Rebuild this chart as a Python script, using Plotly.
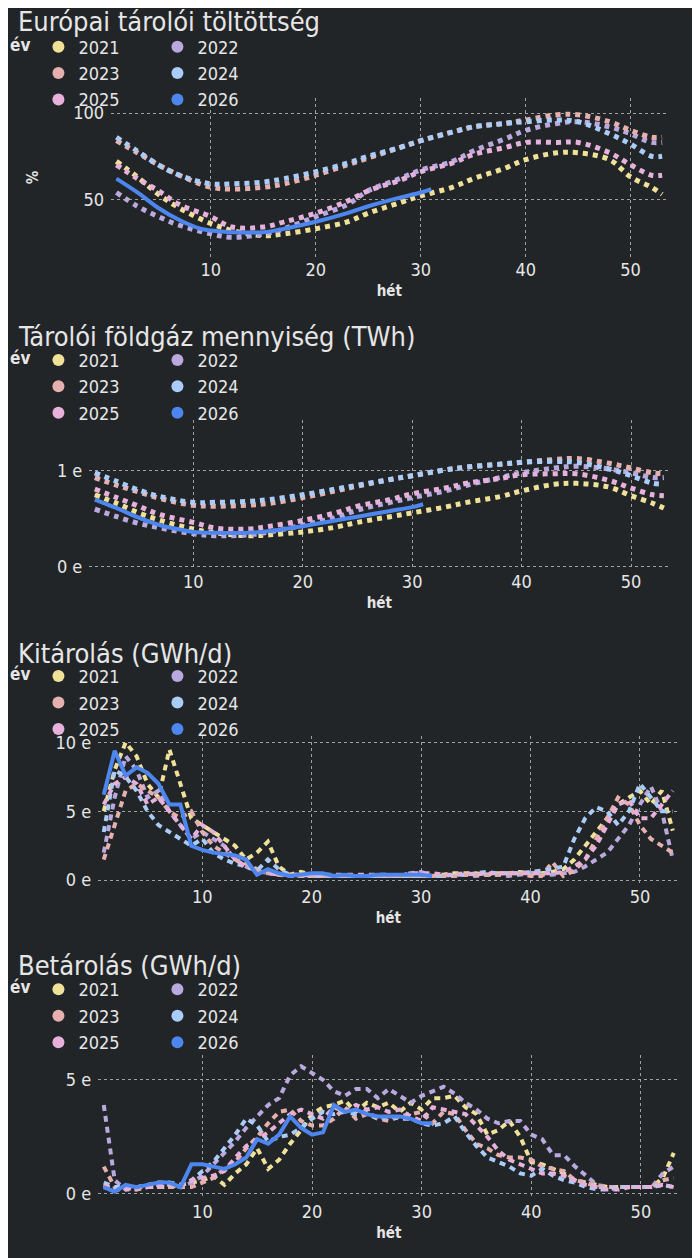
import plotly.graph_objects as go

# Years and colours
years = ["2021", "2022", "2023", "2024", "2025", "2026"]
colors = ["#F0E199", "#B9A9DF", "#E5B0AE", "#A9CCF8", "#E8B1DC", "#4E86F0"]

# Smooth panels: values read at selected weeks
wk_s = [1, 3, 5, 7, 10, 12, 15, 17, 20, 23, 25, 28, 30, 33, 35, 38, 40, 43, 45, 48, 50, 52, 53]
wk_s26 = [1, 3, 5, 7, 9, 10, 12, 15, 17, 20, 23, 25, 28, 30, 31]

fill_pct = {
    "2021": [72, 63, 53, 45, 36, 32, 29, 30, 33, 37, 42, 48, 52, 57, 62, 68, 73, 77, 77, 73, 63, 57, 53],
    "2022": [54, 46, 40, 35, 30, 28, 30, 33, 40, 47, 55, 62, 67, 72, 78, 85, 90, 94, 95, 92, 88, 83, 83],
    "2023": [84, 77, 70, 64, 57, 56, 57, 59, 64, 70, 74, 80, 84, 89, 92, 94, 96, 99, 99, 95, 90, 86, 86],
    "2024": [86, 78, 70, 64, 59, 59, 60, 62, 66, 71, 75, 80, 84, 89, 92, 94, 95, 96, 95, 88, 82, 75, 75],
    "2025": [70, 62, 55, 47, 40, 34, 34, 37, 42, 49, 55, 61, 66, 71, 76, 80, 83, 83, 83, 77, 70, 64, 64],
    "2026": [62, 54, 45, 38, 33, 32, 31, 31, 33, 37, 42, 46, 51, 54, 56],
}

volume_twh = {
    "2021": [0.75, 0.66, 0.56, 0.48, 0.39, 0.35, 0.32, 0.33, 0.36, 0.41, 0.46, 0.52, 0.56, 0.62, 0.67, 0.73, 0.79, 0.86, 0.87, 0.83, 0.74, 0.66, 0.61],
    "2022": [0.60, 0.52, 0.45, 0.40, 0.34, 0.32, 0.33, 0.36, 0.43, 0.51, 0.59, 0.67, 0.72, 0.79, 0.85, 0.93, 0.98, 1.03, 1.05, 1.02, 0.98, 0.93, 0.93],
    "2023": [0.93, 0.85, 0.78, 0.71, 0.64, 0.63, 0.64, 0.66, 0.72, 0.79, 0.84, 0.91, 0.95, 1.01, 1.04, 1.07, 1.09, 1.12, 1.13, 1.08, 1.03, 0.98, 0.97],
    "2024": [0.98, 0.89, 0.80, 0.73, 0.67, 0.67, 0.68, 0.70, 0.75, 0.81, 0.85, 0.91, 0.95, 1.01, 1.04, 1.07, 1.09, 1.10, 1.09, 1.02, 0.95, 0.87, 0.86],
    "2025": [0.81, 0.72, 0.63, 0.54, 0.46, 0.40, 0.39, 0.42, 0.48, 0.56, 0.63, 0.70, 0.76, 0.82, 0.87, 0.92, 0.96, 0.97, 0.97, 0.90, 0.82, 0.75, 0.74],
    "2026": [0.70, 0.61, 0.51, 0.43, 0.38, 0.36, 0.35, 0.35, 0.37, 0.42, 0.48, 0.52, 0.58, 0.62, 0.65],
}

# Weekly panels (thousand GWh/d)
withdrawal = {
    "2021": [5, 8, 10, 9, 7, 6, 9.5, 7, 4.5, 4, 3.5, 3, 2.5, 1.5, 2, 2.8, 1, 0.4, 0.6, 0.4, 0.4, 0.3, 0.3, 0.3, 0.3, 0.3, 0.3, 0.3, 0.3, 0.3, 0.3, 0.4, 0.5, 0.5, 0.5, 0.4, 0.5, 0.5, 0.6, 0.5, 0.5, 0.6, 0.8, 1.5, 2.5, 3.5, 4.5, 5.5, 6, 6.5, 5.5, 6.5, 3.6],
    "2022": [2, 6, 9, 8, 6, 6.5, 5, 4, 3, 3.5, 3, 2.5, 1.5, 1, 0.6, 0.5, 0.4, 0.3, 0.3, 0.3, 0.3, 0.3, 0.3, 0.3, 0.3, 0.3, 0.3, 0.3, 0.5, 0.6, 0.3, 0.3, 0.3, 0.4, 0.3, 0.4, 0.4, 0.3, 0.4, 0.5, 0.4, 0.4, 0.5, 0.6, 1, 1.5, 2, 3, 4, 5.5, 6.8, 5, 1.5],
    "2023": [1.5, 4, 6.5, 7, 6.5, 6, 5, 4.5, 5, 3.5, 2.5, 2, 1.5, 1.2, 0.8, 0.6, 0.4, 0.4, 0.3, 0.3, 0.3, 0.3, 0.3, 0.3, 0.3, 0.3, 0.3, 0.3, 0.3, 0.3, 0.3, 0.3, 0.3, 0.4, 0.4, 0.4, 0.4, 0.5, 0.5, 0.3, 0.3, 1.3, 0.3, 0.7, 1.5, 3, 4.5, 6, 5.5, 4, 3, 2.5, 2],
    "2024": [3.5, 8, 7.5, 6.5, 5, 4, 3.5, 3, 2.5, 3, 2, 1.5, 1.2, 1, 0.7, 1.5, 0.8, 0.4, 0.4, 0.3, 0.3, 0.3, 0.3, 0.3, 0.3, 0.3, 0.3, 0.3, 0.3, 0.3, 0.3, 0.3, 0.4, 0.4, 0.5, 0.6, 0.5, 0.5, 0.5, 0.6, 0.7, 0.8, 1, 3, 4.5, 5.3, 5, 4, 5, 7, 6, 5, 5],
    "2025": [5.5, 7, 7.5, 7, 5.5, 6, 5, 4, 3, 4, 3.5, 2.5, 1.5, 1, 0.7, 0.5, 0.4, 0.4, 0.4, 0.4, 0.4, 0.4, 0.4, 0.4, 0.4, 0.4, 0.4, 0.3, 0.5, 0.5, 0.5, 0.4, 0.4, 0.5, 0.4, 0.5, 0.5, 0.5, 0.5, 0.5, 0.5, 0.5, 0.6, 1, 1.5, 2.5, 4, 5.5, 5.8, 4.5, 4.5, 5.5, 6.5],
    "2026": [6.2, 9.4, 7.6, 8.2, 7.8, 7.0, 5.5, 5.5, 2.5, 2.2, 2.0, 1.9, 1.8, 1.5, 0.4, 0.8, 0.5, 0.3, 0.4, 0.5, 0.5, 0.3, 0.4, 0.3, 0.3, 0.4, 0.4, 0.4, 0.4, 0.4, 0.3],
}

injection = {
    "2021": [0.3, 0.2, 0.3, 0.3, 0.3, 0.3, 0.3, 0.4, 0.5, 0.6, 0.8, 0.4, 0.9, 1.3, 2.0, 1.1, 1.5, 2.2, 2.8, 3.5, 3.8, 3.9, 4.1, 3.6, 4.0, 3.8, 4.0, 3.6, 4.0, 3.7, 4.2, 4.2, 4.3, 3.8, 3.5, 2.6, 2.8, 3.2, 2.5, 1.4, 1.3, 1.1, 0.9, 0.6, 0.5, 0.4, 0.3, 0.3, 0.3, 0.3, 0.3, 0.7, 1.8],
    "2022": [3.9, 0.6, 0.2, 0.2, 0.3, 0.4, 0.4, 0.3, 0.5, 0.8, 1.3, 1.8, 2.3, 2.9, 3.4, 3.9, 4.2, 5.2, 5.6, 5.3, 5.0, 4.5, 4.3, 4.6, 4.6, 4.2, 4.6, 4.3, 4.0, 4.3, 4.5, 4.7, 4.4, 4.0, 3.7, 3.3, 3.1, 3.2, 3.2, 2.6, 2.4, 1.7, 1.7, 1.2, 0.8, 0.4, 0.3, 0.3, 0.3, 0.3, 0.3, 0.9, 1.2],
    "2023": [1.2, 0.3, 0.3, 0.2, 0.3, 0.3, 0.3, 0.3, 0.3, 0.5, 0.7, 1.1, 1.4, 2.0, 2.5, 3.1, 3.6, 3.7, 3.2, 3.0, 3.0, 3.3, 3.8, 3.3, 3.5, 3.3, 3.2, 3.4, 3.5, 3.6, 3.1, 3.6, 3.5, 2.8, 2.2, 2.0, 1.7, 1.6, 1.6, 1.5, 1.2, 1.1, 1.0, 0.6, 0.5, 0.3, 0.3, 0.3, 0.3, 0.3, 0.3, 0.6, 0.7],
    "2024": [0.5, 0.3, 0.3, 0.3, 0.4, 0.5, 0.5, 0.4, 0.6, 1.0, 1.4, 2.0, 2.6, 3.3, 3.0, 2.3, 2.5, 2.6, 2.9, 3.3, 3.6, 3.5, 3.6, 3.5, 3.6, 3.3, 3.4, 3.3, 3.3, 3.1, 3.0, 3.1, 3.4, 2.7, 2.1, 1.6, 1.4, 1.2, 0.9, 0.8, 1.1, 0.8, 0.6, 0.5, 0.3, 0.2, 0.2, 0.3, 0.3, 0.3, 0.3, 0.4, 0.3],
    "2025": [0.4, 0.2, 0.2, 0.3, 0.3, 0.3, 0.4, 0.4, 0.6, 0.7, 0.8, 1.0, 1.6, 2.1, 2.4, 2.7, 3.1, 3.5, 3.7, 3.5, 3.3, 3.8, 3.6, 3.9, 3.7, 3.8, 3.6, 3.7, 3.4, 3.2, 3.8, 3.7, 3.6, 3.5, 3.0, 2.5, 1.9, 1.5, 1.3, 1.1, 0.9, 0.9, 0.8, 0.6, 0.4, 0.3, 0.2, 0.2, 0.3, 0.3, 0.3, 0.4, 0.3],
    "2026": [0.3, 0.1, 0.4, 0.3, 0.4, 0.5, 0.5, 0.3, 1.3, 1.3, 1.2, 1.1, 1.3, 1.6, 2.4, 2.2, 2.6, 3.4, 2.9, 2.6, 2.7, 3.9, 3.6, 3.7, 3.5, 3.4, 3.4, 3.4, 3.3, 3.1, 3.1],
}

titles = ["Európai tárolói töltöttség", "Tárolói földgáz mennyiség (TWh)",
          "Kitárolás (GWh/d)", "Betárolás (GWh/d)"]

H = 1258.0
W = 700.0
OFF = 8  # page offset of the figure
BG = "#222528"
FONT = "DejaVu Sans Condensed, DejaVu Sans"
TXT = "#E6E6E6"

def py(p):
    return 1 - (p - OFF) / H

def px(p):
    return (p - OFF) / W

# panel geometry in pixels
panels = [
    dict(ty=18, ly=70, top=95, bot=255, xl=106, xr=667, yr=[16.7, 108.6],
         tv=[50, 100], tt=["50", "100"]),
    dict(ty=335, ly=386, top=420, bot=570, xl=84, xr=669, yr=[-0.03, 1.53],
         tv=[0, 1], tt=["0 e", "1 e"]),
    dict(ty=655, ly=705, top=738, bot=888, xl=93, xr=678, yr=[-0.3, 10.5],
         tv=[0, 5, 10], tt=["0 e", "5 e", "10 e"]),
    dict(ty=970, ly=1021, top=1060, bot=1205, xl=93, xr=679, yr=[-0.2, 6.1],
         tv=[0, 5], tt=["0 e", "5 e"]),
]

datasets = [fill_pct, volume_twh, withdrawal, injection]

fig = go.Figure()
layout = dict(
    width=700, height=1258, paper_bgcolor=BG, plot_bgcolor=BG,
    margin=dict(l=0, r=0, t=0, b=0), font=dict(family=FONT, color=TXT),
    annotations=[], showlegend=True,
)

for i, (p, data) in enumerate(zip(panels, datasets)):
    n = i + 1
    xa = "x" if n == 1 else f"x{n}"
    ya = "y" if n == 1 else f"y{n}"
    lg = "legend" if n == 1 else f"legend{n}"
    smooth = i < 2
    for yr, col in zip(years, colors):
        vals = data[yr]
        if smooth:
            xs = wk_s26 if yr == "2026" else wk_s
        else:
            xs = list(range(1, len(vals) + 1))
        solid = yr == "2026"
        fig.add_trace(go.Scatter(
            x=xs, y=vals, xaxis=xa, yaxis=ya, mode="lines",
            line=dict(color=col, width=4 if solid else (5 if smooth else 4),
                      dash="solid" if solid else ("dot" if smooth else "6px,5px"),
                      shape="spline" if smooth else "linear"),
            showlegend=False, hoverinfo="skip",
        ))
    for yr, col in zip(years, colors):
        fig.add_trace(go.Scatter(
            x=[None], y=[None], xaxis=xa, yaxis=ya, mode="markers", name=yr,
            marker=dict(color=col, size=17, symbol="circle"), legend=lg,
        ))
    layout[lg] = dict(
        orientation="h", x=px(2), y=py(p["ly"]), xanchor="left", yanchor="middle",
        bgcolor="rgba(0,0,0,0)", font=dict(size=18, color=TXT),
        title=dict(text="<b>év</b>", font=dict(size=17, color=TXT)),
        itemsizing="constant", itemwidth=30,
        entrywidth=74, entrywidthmode="pixels",
    )
    grid = dict(showgrid=True, gridcolor="#A0A0A0", griddash="dot", gridwidth=1,
                zeroline=False, showline=False, ticks="")
    layout["xaxis" if n == 1 else f"xaxis{n}"] = dict(
        domain=[px(p["xl"]), px(p["xr"])], anchor=ya, range=[0.5, 53.5],
        tickvals=[10, 20, 30, 40, 50], tickfont=dict(size=18, color=TXT),
        title=dict(text="<b>hét</b>", font=dict(size=15, color=TXT), standoff=6),
        **grid)
    layout["yaxis" if n == 1 else f"yaxis{n}"] = dict(
        domain=[py(p["bot"]), py(p["top"])], anchor=xa, range=p["yr"],
        tickvals=p["tv"], ticktext=p["tt"], tickfont=dict(size=18, color=TXT),
        ticklabelstandoff=6, **grid)
    layout["annotations"].append(dict(
        text=titles[i], xref="paper", yref="paper", x=px(10), y=py(p["ty"]),
        xanchor="left", yanchor="middle", showarrow=False,
        font=dict(size=27, color=TXT, family=FONT)))

layout["yaxis"]["title"] = dict(text="<b>%</b>", font=dict(size=15, color=TXT), standoff=30)
fig.update_layout(**layout)
fig.write_html("out.html")
